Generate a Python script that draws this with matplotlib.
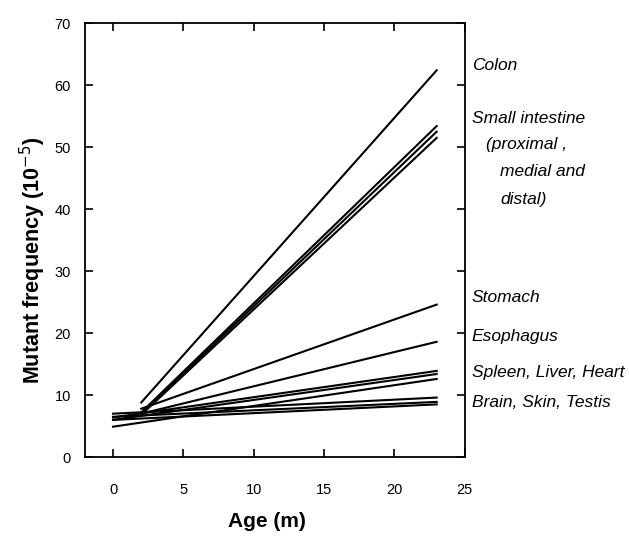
import matplotlib
matplotlib.use("Agg")
import matplotlib.pyplot as plt

plt.rcParams['font.family'] = ['Liberation Sans', 'DejaVu Sans']

# regression lines per tissue: (start age, start value) -> (end age, end value)
tissues = ["Colon", "Small intestine (proximal)", "Small intestine (medial)",
           "Small intestine (distal)", "Stomach", "Esophagus",
           "Spleen", "Liver", "Heart", "Brain", "Skin", "Testis"]
x_start = [2, 2, 2, 2, 2, 2, 0, 0, 0, 0, 0, 0]
y_start = [8.8, 7.2, 7.0, 6.8, 7.8, 7.0, 6.4, 6.0, 4.9, 7.0, 6.5, 6.0]
x_end = [23] * 12
y_end = [62.4, 53.4, 52.5, 51.5, 24.6, 18.6, 13.9, 13.4, 12.6, 9.6, 8.9, 8.5]

# right hand labels
label_text = ["Colon", "Small intestine", "(proximal ,", "medial and", "distal)",
              "Stomach", "Esophagus", "Spleen, Liver, Heart", "Brain, Skin, Testis"]
label_y = [63.1, 54.6, 50.5, 46.0, 41.6, 25.8, 19.5, 13.6, 8.8]
label_indent = [0, 0, 1, 2, 2, 0, 0, 0, 0]

fig = plt.figure(figsize=(6.29, 5.39), dpi=100)
ax = fig.add_axes([0.135, 0.152, 0.604, 0.805])

for i in range(len(tissues)):
    ax.plot([x_start[i], x_end[i]], [y_start[i], y_end[i]], color="black", lw=1.5)

ax.set_xlim(-2, 25)
ax.set_ylim(0, 70)
ax.set_xticks([0, 5, 10, 15, 20, 25])
ax.set_yticks(range(0, 71, 10))
ax.tick_params(direction="in", length=6, width=1.2, labelsize=10.5,
               top=True, right=True)
ax.tick_params(axis="x", pad=19)
ax.tick_params(axis="y", pad=10)
for s in ax.spines.values():
    s.set_linewidth(1.3)

ax.set_xlabel("Age (m)", fontsize=15, fontweight="bold")
ax.set_ylabel("Mutant frequency (10$^{-5}$)", fontsize=15.5, fontweight="bold")
ax.xaxis.set_label_coords(0.479, -0.127)
ax.yaxis.set_label_coords(-0.098, 0.454)

for t, yv, ind in zip(label_text, label_y, label_indent):
    ax.text(25.5 + ind * 1.0, yv, t, fontsize=12.5, style="italic",
            va="center", ha="left", clip_on=False)

fig.savefig("out.png", dpi=100)
